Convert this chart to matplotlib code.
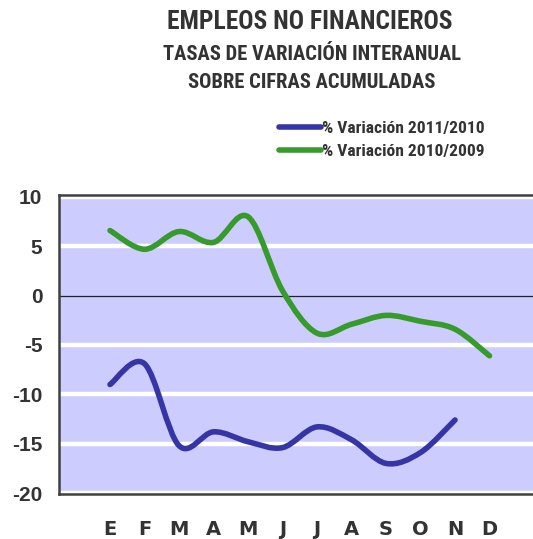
import numpy as np
import matplotlib
matplotlib.use("Agg")
import matplotlib.pyplot as plt
from matplotlib.path import Path
from matplotlib.patches import PathPatch
from matplotlib.lines import Line2D

COND = ["Roboto Condensed", "Liberation Sans", "DejaVu Sans"]
plt.rcParams["font.family"] = COND

months = ["E", "F", "M", "A", "M", "J", "J", "A", "S", "O", "N", "D"]
var_2011 = [-9.0, -6.9, -15.2, -13.8, -14.8, -15.4, -13.3, -14.6, -17.0, -15.9, -12.6]
var_2010 = [6.6, 4.7, 6.5, 5.4, 8.0, 0.5, -3.8, -2.9, -2.0, -2.6, -3.4, -6.1]
series_labels = ["% Variación 2011/2010", "% Variación 2010/2009"]

BLUE = "#3535a6"
GREEN = "#379b2c"
TXT = "#333333"
BG = "#ccccff"


def smooth_path(y):
    # Excel-style smoothed line: cubic Bezier through each point
    x = np.arange(len(y), dtype=float)
    y = np.asarray(y, dtype=float)
    pts = np.column_stack([x, y])
    verts = [pts[0]]
    codes = [Path.MOVETO]
    n = len(pts)
    for i in range(n - 1):
        p0 = pts[max(i - 1, 0)]
        p1 = pts[i]
        p2 = pts[i + 1]
        p3 = pts[min(i + 2, n - 1)]
        c1 = p1 + (p2 - p0) / 6.0
        c2 = p2 - (p3 - p1) / 6.0
        verts += [c1, c2, p2]
        codes += [Path.CURVE4] * 3
    return Path(verts, codes)


fig = plt.figure(figsize=(5.33, 5.39), dpi=100)
ax = fig.add_axes([59 / 533, 1 - 494 / 539, 1 - 59 / 533, (494 - 195) / 539])
ax.set_facecolor(BG)

ax.set_xlim(-1.478, 12.26)
ax.set_ylim(-20.1, 10.2)

for g in [10, 5, -5, -10, -15, -20]:
    ax.axhline(g, color="white", lw=3.2, zorder=1)
ax.axhline(0, color="#222222", lw=0.9, zorder=2)

for vals, col in [(var_2010, GREEN), (var_2011, BLUE)]:
    ax.add_patch(PathPatch(smooth_path(vals), fc="none", ec=col, lw=4.0,
                           capstyle="round", joinstyle="round", zorder=3))

for side in ["top", "left", "bottom"]:
    ax.spines[side].set_color("#404040")
    ax.spines[side].set_linewidth(1.8)
ax.spines["right"].set_visible(False)

ax.set_yticks([10, 5, 0, -5, -10, -15, -20])
ax.set_yticklabels(["10", "5", "0", "-5", "-10", "-15", "-20"],
                   fontsize=15, fontweight="bold", color=TXT,
                   family=["Liberation Sans", "DejaVu Sans"])
ax.set_xticks(range(len(months)))
ax.set_xticklabels(months, fontsize=14, fontweight="heavy", color=TXT,
                   family=["DejaVu Sans"])
ax.tick_params(axis="y", length=0, pad=12)
ax.tick_params(axis="x", length=0, pad=19)

fig.text(310 / 533, 1 - 22 / 539, "EMPLEOS NO FINANCIEROS", ha="center",
         va="center", fontsize=18.4, fontweight="bold", color=TXT)
fig.text(312 / 533, 1 - 55 / 539, "TASAS DE VARIACIÓN INTERANUAL",
         ha="center", va="center", fontsize=14.8, fontweight="bold", color=TXT)
fig.text(312 / 533, 1 - 82 / 539, "SOBRE CIFRAS ACUMULADAS",
         ha="center", va="center", fontsize=14.8, fontweight="bold", color=TXT)

handles = [Line2D([], [], color=BLUE, lw=4.0, solid_capstyle="round"),
           Line2D([], [], color=GREEN, lw=4.0, solid_capstyle="round")]
fig.legend(handles, series_labels, loc="upper left",
           bbox_to_anchor=(263 / 533, 1 - 105 / 539), frameon=False,
           handlelength=2.4, handletextpad=0.1, labelspacing=0.45,
           prop=dict(size=12.6, weight="bold", family=COND), labelcolor=TXT)

fig.savefig("out.png", dpi=100)
